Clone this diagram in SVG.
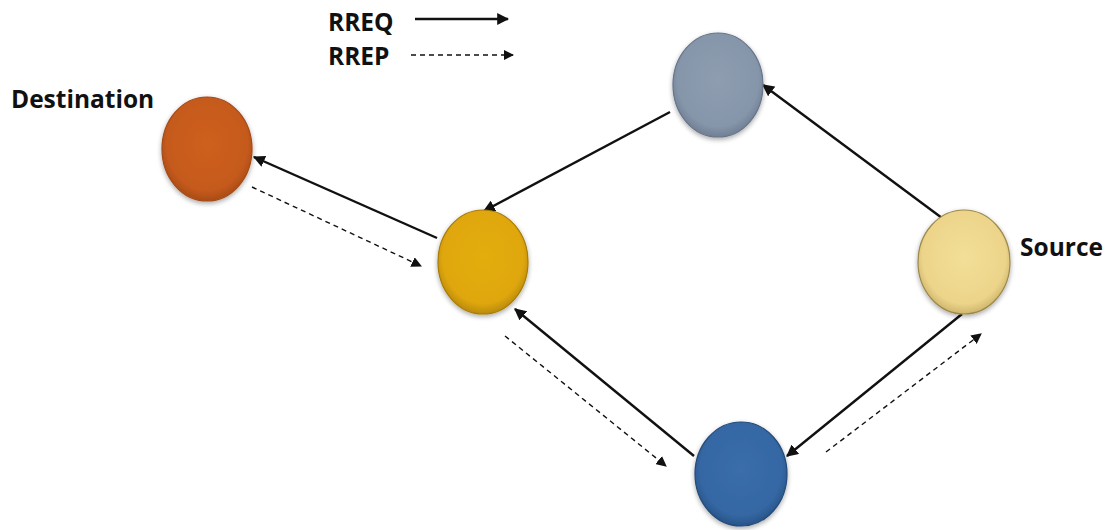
<svg xmlns="http://www.w3.org/2000/svg" width="1109" height="530" viewBox="0 0 1109 530">
  <style>
    .lbl { font-family: "Open Sans", "Liberation Sans", sans-serif; font-weight: bold; font-size: 24.5px; fill: #111; }
    .req { stroke: #111; stroke-width: 2.4; fill: none; marker-end: url(#head); }
    .rep { stroke: #111; stroke-width: 1.4; stroke-dasharray: 5 4; fill: none; marker-end: url(#headSmall); }
    .node ellipse { stroke-width: 1.2; }
  </style>
  <defs>
    <marker id="head" viewBox="0 0 10 10" refX="9" refY="5" markerWidth="5" markerHeight="5" orient="auto" markerUnits="strokeWidth">
      <path d="M0,0 L10,5 L0,10 z" fill="#111"/>
    </marker>
    <marker id="headSmall" viewBox="0 0 10 10" refX="9" refY="5" markerWidth="7.5" markerHeight="7.5" orient="auto" markerUnits="strokeWidth">
      <path d="M0,0 L10,5 L0,10 z" fill="#111"/>
    </marker>
    <filter id="soft" x="-20%" y="-20%" width="140%" height="140%">
      <feGaussianBlur in="SourceAlpha" stdDeviation="2.5"/>
      <feOffset dx="0" dy="2" result="b"/>
      <feComponentTransfer><feFuncA type="linear" slope="0.35"/></feComponentTransfer>
      <feMerge><feMergeNode/><feMergeNode in="SourceGraphic"/></feMerge>
    </filter>
    <radialGradient id="gOrange" cx="50%" cy="45%" r="60%">
      <stop offset="0" stop-color="#cf5f1e"/>
      <stop offset="0.75" stop-color="#c55a1c"/>
      <stop offset="1" stop-color="#9c4514"/>
    </radialGradient>
    <radialGradient id="gGold" cx="50%" cy="45%" r="60%">
      <stop offset="0" stop-color="#e3ad10"/>
      <stop offset="0.75" stop-color="#dfa70d"/>
      <stop offset="1" stop-color="#a87c06"/>
    </radialGradient>
    <radialGradient id="gGray" cx="50%" cy="45%" r="60%">
      <stop offset="0" stop-color="#8e9db0"/>
      <stop offset="0.75" stop-color="#8696aa"/>
      <stop offset="1" stop-color="#66748a"/>
    </radialGradient>
    <radialGradient id="gCream" cx="50%" cy="45%" r="60%">
      <stop offset="0" stop-color="#f3df98"/>
      <stop offset="0.75" stop-color="#ecd48a"/>
      <stop offset="1" stop-color="#c0a760"/>
    </radialGradient>
    <radialGradient id="gBlue" cx="50%" cy="45%" r="60%">
      <stop offset="0" stop-color="#3a6eab"/>
      <stop offset="0.75" stop-color="#3467a3"/>
      <stop offset="1" stop-color="#234a7a"/>
    </radialGradient>
  </defs>

  <rect width="1109" height="530" fill="#ffffff"/>

  <!-- legend -->
  <g id="legend">
    <text class="lbl" x="328" y="31">RREQ</text>
    <line class="req" x1="415" y1="19" x2="508" y2="19"/>
    <text class="lbl" x="328" y="65">RREP</text>
    <line class="rep" x1="411" y1="55" x2="513" y2="55"/>
  </g>

  <!-- connectors -->
  <g id="connectors">
    <line class="req" x1="437" y1="238" x2="254" y2="157"/>
    <line class="rep" x1="252" y1="187" x2="421" y2="266"/>
    <line class="req" x1="670" y1="112" x2="484" y2="211"/>
    <line class="req" x1="942" y1="218" x2="763" y2="85"/>
    <line class="req" x1="694" y1="456" x2="515" y2="309"/>
    <line class="rep" x1="505" y1="336" x2="666" y2="466"/>
    <line class="req" x1="962" y1="314" x2="787" y2="456"/>
    <line class="rep" x1="826" y1="452" x2="981" y2="334"/>
  </g>

  <!-- nodes -->
  <g id="destination" class="node">
    <ellipse cx="207" cy="149" rx="45" ry="52" fill="url(#gOrange)" stroke="#a44a16" filter="url(#soft)"/>
    <text class="lbl" x="11" y="108">Destination</text>
  </g>
  <g id="relay-a" class="node">
    <ellipse cx="483" cy="262" rx="45" ry="52" fill="url(#gGold)" stroke="#a87c06" filter="url(#soft)"/>
  </g>
  <g id="relay-b" class="node">
    <ellipse cx="718" cy="85" rx="45" ry="52" fill="url(#gGray)" stroke="#66748a" filter="url(#soft)"/>
  </g>
  <g id="source" class="node">
    <ellipse cx="964" cy="262" rx="46" ry="52" fill="url(#gCream)" stroke="#9c8848" filter="url(#soft)"/>
    <text class="lbl" x="1020" y="256">Source</text>
  </g>
  <g id="relay-c" class="node">
    <ellipse cx="741" cy="474" rx="46" ry="52" fill="url(#gBlue)" stroke="#234a7a" filter="url(#soft)"/>
  </g>
</svg>
